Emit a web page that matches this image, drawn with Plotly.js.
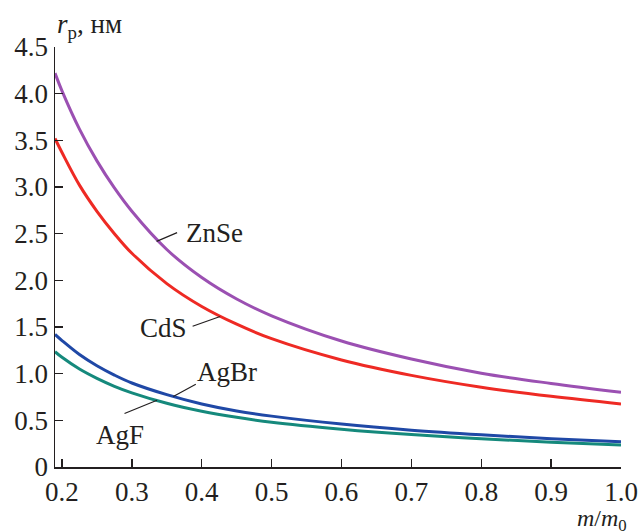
<!DOCTYPE html>
<html>
<head>
<meta charset="utf-8">
<script src="https://cdn.plot.ly/plotly-3.0.1.min.js"></script>
<style>html,body{margin:0;padding:0;background:#fff;}#chart{width:638px;height:531px;}</style>
</head>
<body>
<div id="chart"></div>
<script>
const massRatio = [0.19, 0.2, 0.225, 0.25, 0.275, 0.3, 0.35, 0.4, 0.45, 0.5, 0.6, 0.7, 0.8, 0.9, 1.0];
const znse = [4.22, 4.03, 3.62, 3.28, 2.99, 2.74, 2.33, 2.03, 1.80, 1.62, 1.35, 1.157, 1.005, 0.895, 0.80];
const cds  = [3.52, 3.37, 3.02, 2.74, 2.50, 2.29, 1.965, 1.72, 1.53, 1.375, 1.147, 0.982, 0.855, 0.757, 0.676];
const agbr = [1.42, 1.355, 1.205, 1.085, 0.985, 0.90, 0.775, 0.675, 0.60, 0.545, 0.46, 0.395, 0.345, 0.303, 0.27];
const agf  = [1.235, 1.175, 1.05, 0.95, 0.865, 0.795, 0.683, 0.598, 0.532, 0.479, 0.405, 0.347, 0.302, 0.266, 0.235];
const seriesNames = ["ZnSe", "CdS", "AgBr", "AgF"];
const yTickVals = [0, 0.5, 1.0, 1.5, 2.0, 2.5, 3.0, 3.5, 4.0, 4.5];
const yTickText = ["0", "0.5", "1.0", "1.5", "2.0", "2.5", "3.0", "3.5", "4.0", "4.5"];
const xTickVals = [0.2, 0.3, 0.4, 0.5, 0.6, 0.7, 0.8, 0.9, 1.0];
const xTickText = ["0.2", "0.3", "0.4", "0.5", "0.6", "0.7", "0.8", "0.9", "1.0"];

const colors = ["#9b50b2", "#ee2a24", "#1f48a6", "#15897c"];
const ys = [znse, cds, agbr, agf];
const traces = ys.map((y, i) => ({
  x: massRatio, y: y, type: "scatter", mode: "lines", name: seriesNames[i],
  line: {color: colors[i], width: 3, shape: "spline", smoothing: 1}
}));

const FONT = "'Liberation Serif', 'Times New Roman', serif";
const FS = 27;
const txt = "#231f20";
function label(text, x, y) {
  return {text: text, x: x, y: y, xref: "x", yref: "y", showarrow: false,
          font: {family: FONT, size: FS, color: txt}};
}
function leader(x, y, ax, ay) {
  return {text: " ", x: x, y: y, xref: "x", yref: "y", showarrow: true, arrowhead: 0,
          font: {size: 1}, borderpad: 0,
          arrowwidth: 1.2, arrowcolor: txt, ax: ax, ay: ay, standoff: 0, startstandoff: 0};
}

const layout = {
  width: 638, height: 531,
  margin: {l: 55, r: 17, t: 47, b: 64},
  paper_bgcolor: "#fff", plot_bgcolor: "#fff",
  showlegend: false,
  font: {family: FONT, size: FS, color: txt},
  xaxis: {
    range: [0.19, 1.0], tickvals: xTickVals, ticktext: xTickText,
    ticks: "inside", ticklen: 8, tickwidth: 1.5, tickcolor: txt,
    showline: true, linecolor: txt, linewidth: 1.5, showgrid: false, zeroline: false,
    tickfont: {family: FONT, size: FS, color: txt}
  },
  yaxis: {
    range: [0, 4.5], tickvals: yTickVals, ticktext: yTickText,
    ticks: "inside", ticklen: 8, tickwidth: 1.5, tickcolor: txt,
    showline: true, linecolor: txt, linewidth: 1.5, showgrid: false, zeroline: false,
    tickfont: {family: FONT, size: FS, color: txt}
  },
  annotations: [
    label(seriesNames[0], 0.4177, 2.51),
    label(seriesNames[1], 0.3452, 1.492),
    label(seriesNames[2], 0.4363, 1.013),
    label(seriesNames[3], 0.2828, 0.345),
    leader(0.3354, 2.417, 21, -9),
    leader(0.4263, 1.613, -28, 10),
    leader(0.3593, 0.756, 23, -12.5),
    leader(0.336, 0.715, -33, 13.5),
    {text: "<i>r</i><sub>p</sub>, нм", xref: "paper", yref: "paper", x: 0, y: 1,
     xanchor: "left", yanchor: "bottom", yshift: 2, showarrow: false,
     font: {family: FONT, size: FS, color: txt}},
    {text: "<i>m</i>/<i>m</i><sub>0</sub>", xref: "paper", yref: "paper", x: 1, y: 0,
     xanchor: "right", yanchor: "top", xshift: 8, yshift: -36, showarrow: false,
     font: {family: FONT, size: 24, color: txt}}
  ]
};

Plotly.newPlot("chart", traces, layout, {displayModeBar: false, staticPlot: true});
</script>
</body>
</html>
